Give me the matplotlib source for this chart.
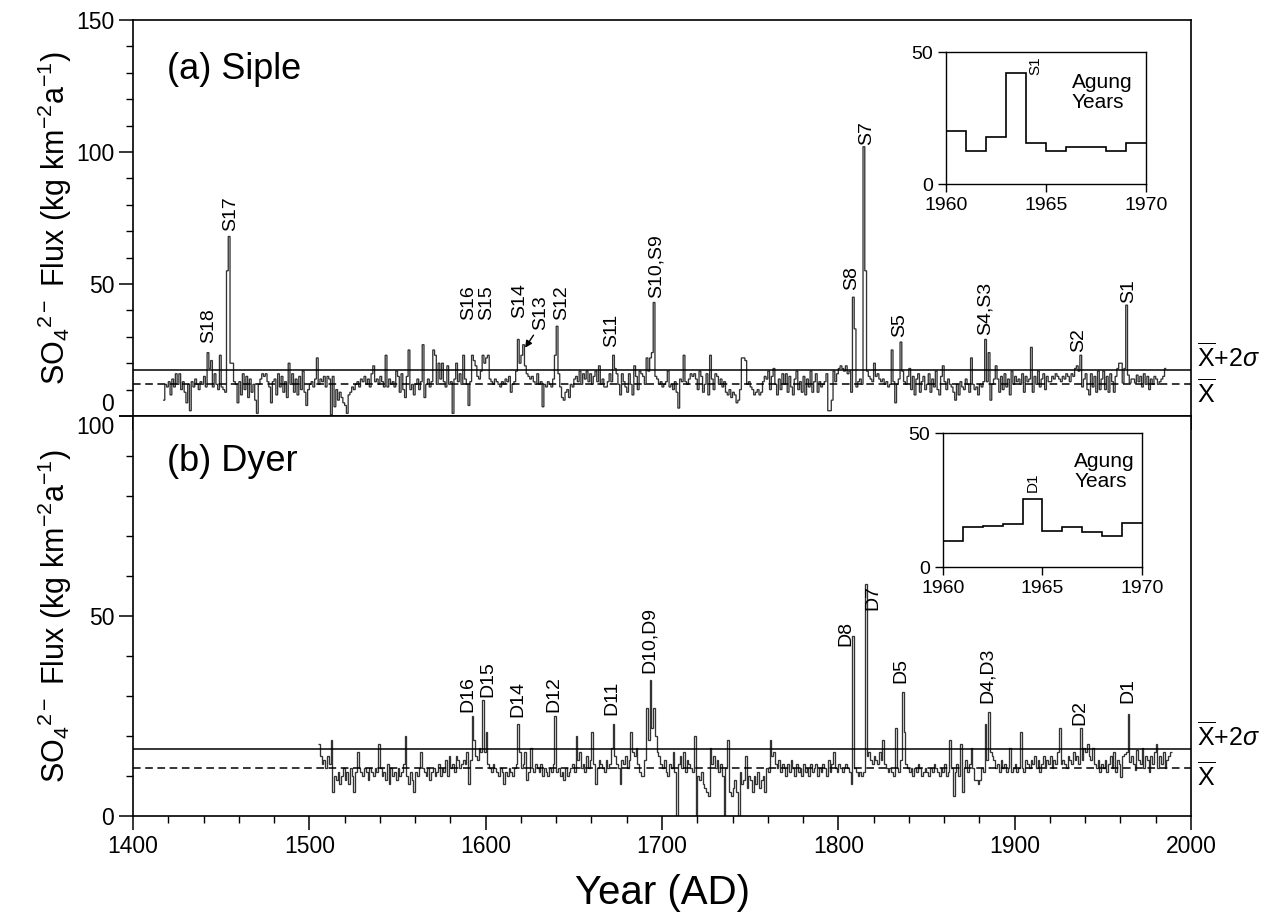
import numpy as np
import matplotlib
matplotlib.use('Agg')
import matplotlib.pyplot as plt
import matplotlib.transforms as mtransforms
from matplotlib.ticker import MultipleLocator

plt.rcParams['font.family'] = ['Liberation Sans', 'DejaVu Sans']
plt.rcParams['mathtext.fontset'] = 'custom'
plt.rcParams['mathtext.rm'] = 'Liberation Sans'
plt.rcParams['mathtext.it'] = 'Liberation Sans:italic'
plt.rcParams['mathtext.bf'] = 'Liberation Sans:bold'

# annual sulfate flux, Siple Station (first year 1417)
siple_start = 1417
siple_flux = [
    6, 12, 11,
    13, 8, 14, 11, 16, 12, 16, 10, 13, 9,
    5, 12, 2, 13, 11, 14, 12, 10, 13, 12,
    15, 11, 24, 18, 21, 11, 16, 12, 10, 23,
    11, 10, 9, 55, 68, 20, 20, 13, 12, 5,
    13, 8, 16, 10, 15, 7, 14, 9, 12, 6,
    1, 12, 14, 16, 15, 16, 13, 11, 5, 13,
    14, 8, 16, 11, 15, 9, 13, 7, 20, 12,
    16, 9, 14, 8, 15, 10, 17, 9, 4, 10,
    12, 13, 11, 14, 22, 12, 14, 13, 15, 11,
    15, 14, 0.5, 15, 3.5, 10, 6, 9, 7, 5,
    4, 1, 8, 9, 11, 10, 12, 13, 11, 14,
    13, 15, 12, 14, 11, 16, 19, 13, 14, 12,
    15, 13, 11, 23, 11, 14, 12, 13, 11, 17,
    15, 9, 16, 10, 7, 15, 25, 10, 12, 8,
    12, 14, 10, 13, 27, 7, 12, 14, 11, 13,
    25, 23, 12, 20, 14, 20, 13, 11, 19, 12,
    13, 1, 14, 20, 13, 16, 12, 23, 14, 12,
    4, 13, 23, 21, 19, 15, 14, 17, 23, 20,
    22, 23, 14, 13, 12, 14, 13, 12, 11, 13,
    12, 14, 13, 15, 9, 12, 13, 17, 29, 20,
    23, 27, 19, 16, 15, 14, 15, 13, 12, 16,
    12, 13, 3.5, 12, 11, 13, 12, 11, 14, 23,
    34, 16, 11, 7, 6, 9, 10, 7, 12, 11,
    14, 15, 13, 17, 12, 16, 14, 17, 13, 16,
    12, 15, 17, 13, 19, 12, 14, 11, 11, 13,
    16, 13, 23, 18, 16, 12, 8, 16, 13, 11,
    9, 16, 12, 8, 19, 15, 10, 17, 16, 15,
    12, 22, 17, 22, 24, 43, 15, 14, 12, 13,
    11, 12, 13, 17, 11, 12, 10, 13, 9, 3,
    14, 13, 23, 13, 12, 14, 16, 15, 16, 14,
    10, 17, 15, 9, 12, 16, 8, 23, 14, 10,
    16, 15, 12, 14, 11, 13, 9, 8, 10, 7,
    9, 8, 5, 6, 10, 22, 22, 21, 12, 13,
    11, 10, 8, 9, 10, 8, 9, 13, 15, 14,
    17, 10, 15, 18, 12, 8, 14, 10, 16, 12,
    16, 9, 15, 11, 8, 14, 17, 10, 13, 9,
    15, 8, 14, 11, 17, 9, 13, 16, 9, 13,
    11, 12, 13, 16, 2, 2, 6, 17, 13, 16,
    18, 19, 18, 17, 19, 16, 17, 9, 45, 33,
    11, 13, 14, 12, 102, 55, 17, 15, 14, 13,
    20, 15, 16, 14, 13, 14, 12, 13, 11, 12,
    25, 13, 5, 12, 14, 28, 17, 13, 12, 15,
    18, 10, 15, 8, 14, 16, 9, 13, 15, 10,
    12, 16, 9, 14, 11, 17, 10, 8, 15, 19,
    13, 10, 14, 12, 11, 9, 6, 12, 8, 13,
    11, 10, 14, 12, 9, 22, 12, 10, 11, 8,
    12, 11, 13, 29, 13, 24, 6, 12, 14, 19,
    14, 9, 15, 10, 16, 11, 14, 8, 17, 12,
    15, 13, 14, 12, 16, 9, 15, 13, 14, 26,
    9, 15, 12, 17, 11, 14, 16, 10, 15, 13,
    13, 15, 14, 16, 15, 14, 13, 15, 14, 16,
    15, 13, 16, 15, 18, 19, 17, 23, 11, 14,
    16, 10, 8, 16, 11, 15, 9, 17, 10, 14,
    17, 10, 15, 9, 16, 13, 9, 15, 18, 20,
    20, 12.5, 18, 42, 15.5, 12.5, 14, 14, 12.5, 15.5,
    13, 15, 11, 16, 12, 15, 10, 14, 12, 15,
    14, 12, 13, 14, 15, 18,
]

# annual sulfate flux, Dyer Plateau (first year 1505)
dyer_start = 1505
dyer_flux = [
    18, 15, 13, 14, 12,
    15, 13, 19, 6, 10, 9, 11, 8, 10, 12,
    9, 11, 8, 12, 10, 6, 11, 16, 12, 11,
    10, 12, 11, 9, 12, 11, 10, 12, 11, 18,
    12, 10, 11, 9, 13, 8, 12, 10, 11, 9,
    12, 10, 11, 13, 20, 10, 8, 11, 9, 6,
    11, 10, 12, 16, 12, 11, 10, 12, 9, 11,
    12, 10, 11, 13, 10, 12, 11, 14, 10, 15,
    12, 13, 11, 15, 14, 12, 13, 14, 13, 16,
    8, 14, 25, 19, 15, 14, 17, 16, 29, 16,
    21, 13, 12, 11, 13, 12, 11, 10, 12, 11,
    8, 11, 10, 12, 11, 10, 12, 13, 23, 16,
    12, 13, 16, 9, 11, 17, 12, 11, 13, 12,
    11, 13, 10, 12, 11, 10, 12, 11, 13, 25,
    11, 12, 10, 11, 9, 12, 10, 11, 12, 13,
    11, 20, 14, 16, 12, 13, 11, 15, 12, 14,
    21, 13, 8, 12, 14, 13, 12, 11, 14, 12,
    13, 17, 23, 15, 13, 12, 8, 14, 13, 15,
    12, 14, 21, 16, 15, 17, 13, 11, 10, 10,
    14, 27, 19, 34, 22, 27, 20, 16, 15, 13,
    12, 14, 11, 10, 13, 12, 16, 11, 0, 13,
    15, 12, 16, 11, 14, 13, 12, 11, 20, 0,
    10, 9, 11, 8, 7, 6, 5, 17, 13, 15,
    12, 14, 11, 13, 10, 0, 12, 19, 6, 5,
    7, 9, 6, 0, 11, 8, 9, 15, 7, 10,
    9, 6, 10, 8, 11, 7, 9, 10, 6, 12,
    11, 19, 15, 16, 13, 12, 14, 11, 13, 12,
    10, 13, 11, 14, 12, 10, 13, 11, 12, 10,
    13, 11, 12, 10, 13, 11, 12, 13, 10, 12,
    11, 13, 12, 10, 14, 11, 13, 16, 12, 11,
    13, 12, 11, 12, 13, 12, 11, 8, 45, 12,
    11, 10, 11, 10, 11, 58, 15, 16, 14, 13,
    15, 14, 13, 16, 14, 19, 13, 12, 11, 12,
    11, 10, 22, 12, 11, 14, 31, 21, 13, 12,
    11, 12, 10, 12, 11, 13, 12, 10, 11, 12,
    11, 10, 12, 11, 13, 12, 11, 10, 12, 11,
    13, 10, 11, 19, 12, 5, 11, 13, 10, 18,
    6, 12, 14, 11, 13, 17, 12, 9, 9, 8,
    9, 12, 11, 23, 14, 26, 16, 15, 14, 12,
    13, 11, 14, 12, 13, 11, 12, 17, 11, 12,
    13, 11, 12, 21, 12, 11, 14, 13, 12, 14,
    13, 15, 12, 14, 11, 13, 15, 12, 14, 13,
    15, 12, 14, 13, 16, 22, 13, 14, 13, 12,
    15, 14, 13, 16, 14, 15, 13, 22, 14, 17,
    16, 18, 15, 14, 17, 13, 12, 14, 11, 13,
    12, 14, 11, 13, 15, 12, 16, 11, 14, 13,
    9.75, 15, 15.5, 16, 25.5, 13.5, 15, 13, 11.5, 16.5,
    14, 13, 17, 12, 15, 14, 11, 15, 13, 16,
    18, 12, 15, 13, 16, 12, 14, 15, 16,
]

siple_mean, siple_2sig = 12.1, 17.4
dyer_mean, dyer_2sig = 12.1, 16.8

# Agung years insets
agung_edges = [1960, 1961, 1962, 1963, 1964, 1965, 1966, 1967, 1968, 1969, 1970]
siple_agung = [20, 12.5, 18, 42, 15.5, 12.5, 14, 14, 12.5, 15.5]
dyer_agung = [9.75, 15, 15.5, 16, 25.5, 13.5, 15, 13, 11.5, 16.5]

siple_events = ['S18', 'S17', 'S16', 'S15', 'S14', 'S13', 'S12', 'S11', 'S10,S9',
                'S8', 'S7', 'S5', 'S4,S3', 'S2', 'S1']
dyer_events = ['D16', 'D15', 'D14', 'D12', 'D11', 'D10,D9', 'D8', 'D7', 'D5',
               'D4,D3', 'D2', 'D1']

line_col = '#333333'

fig = plt.figure(figsize=(12.67, 9.22), dpi=100)
ax1 = fig.add_axes([0.105, 0.5488, 0.835, 0.4295])
ax2 = fig.add_axes([0.105, 0.115, 0.835, 0.4338])

panels = [(ax1, siple_start, siple_flux, siple_mean, siple_2sig, 150, '(a) Siple'),
          (ax2, dyer_start, dyer_flux, dyer_mean, dyer_2sig, 100, '(b) Dyer')]

for ax, start, flux, mean, sig2, ytop, title in panels:
    edges = np.arange(start, start + len(flux) + 1)
    ax.stairs(flux, edges, color=line_col, lw=0.95, baseline=None)
    ax.axhline(sig2, color='k', lw=1.1)
    ax.axhline(mean, color='k', lw=1.1, ls=(0, (5, 3)))
    ax.set_xlim(1400, 2000)
    ax.set_ylim(0, ytop)
    ax.set_yticks(np.arange(0, ytop + 1, 50))
    ax.xaxis.set_major_locator(MultipleLocator(100))
    ax.xaxis.set_minor_locator(MultipleLocator(20))
    ax.yaxis.set_minor_locator(MultipleLocator(10))
    ax.tick_params(which='major', direction='out', length=10, width=1.1, labelsize=16.5)
    ax.tick_params(which='minor', direction='out', length=5, width=1.0)
    for s in ax.spines.values():
        s.set_linewidth(1.2)
    ax.set_ylabel(r'SO$_4$$^{2-}$ Flux (kg km$^{-2}$a$^{-1}$)', fontsize=22)
    ax.yaxis.set_label_coords(-0.056, 0.5)
    ax.text(0.032, 0.875 if ytop == 150 else 0.8875, title, transform=ax.transAxes,
            fontsize=26, va='center', ha='left')
    tr = mtransforms.blended_transform_factory(ax.transAxes, ax.transData)
    k = 2.64 if ytop == 150 else 4.0
    ax.text(1.006, sig2 + 13 / k, r'$\overline{\mathrm{X}}$+2$\sigma$', transform=tr,
            fontsize=18, va='center', ha='left')
    ax.text(1.006, mean - 9 / k, r'$\overline{\mathrm{X}}$', transform=tr,
            fontsize=18, va='center', ha='left')

ax1.tick_params(labelbottom=False)
ax1.yaxis.get_major_ticks()[0].label1.set_verticalalignment('bottom')
ax2.yaxis.get_major_ticks()[-1].label1.set_verticalalignment('top')
ax2.set_xlabel('Year (AD)', fontsize=29, labelpad=12)

# event labels
siple_pos = [(1442.6, 27.7), (1455.5, 70), (1590.2, 36.4), (1600.6, 36.4),
             (1619.0, 37.0), (1631.0, 32.5), (1643.3, 36.4), (1671.7, 26),
             (1696.7, 44.7), (1807.8, 47.7), (1815.8, 102.6), (1835.0, 30),
             (1883.3, 30.7), (1936.0, 24.2), (1964.4, 42.8)]
for name, (x, y) in zip(siple_events, siple_pos):
    ax1.text(x, y, name, rotation=90, ha='center', va='bottom', fontsize=14)
ax1.annotate('', xy=(1621.5, 25), xytext=(1628, 31.5),
             arrowprops=dict(arrowstyle='-|>', color='k', lw=1, mutation_scale=10))

dyer_pos = [(1590, 26), (1601.4, 29.8), (1618.4, 24.8), (1638.8, 26), (1671.7, 25.2),
            (1692.7, 35.7), (1804.5, 42.5), (1819.8, 51.5), (1835.6, 33.2),
            (1884.4, 28.2), (1937, 22.8), (1964.4, 28.2)]
for name, (x, y) in zip(dyer_events, dyer_pos):
    ax2.text(x, y, name, rotation=90, ha='center', va='bottom', fontsize=14)

# insets
ins1 = fig.add_axes([0.7466, 0.8004, 0.1579, 0.1432])
ins2 = fig.add_axes([0.7443, 0.385, 0.157, 0.1453])
for ins, vals in [(ins1, siple_agung), (ins2, dyer_agung)]:
    ins.stairs(vals, agung_edges, color='k', lw=1.2, baseline=None)
    ins.set_xlim(1960, 1970)
    ins.set_ylim(0, 50)
    ins.set_xticks([1960, 1965, 1970])
    ins.set_yticks([0, 50])
    ins.tick_params(direction='out', length=6, width=1.0, labelsize=14)
    for s in ins.spines.values():
        s.set_linewidth(1.0)
ins1.text(1964.45, 41.3, 'S1', rotation=90, ha='center', va='bottom', fontsize=11)
ins1.text(1966.3, 42, 'Agung\nYears', ha='left', va='top', fontsize=15, linespacing=1.05)
ins2.text(1964.5, 28, 'D1', rotation=90, ha='center', va='bottom', fontsize=11)
ins2.text(1966.6, 43, 'Agung\nYears', ha='left', va='top', fontsize=15, linespacing=1.05)

fig.savefig('out.png', dpi=100)
